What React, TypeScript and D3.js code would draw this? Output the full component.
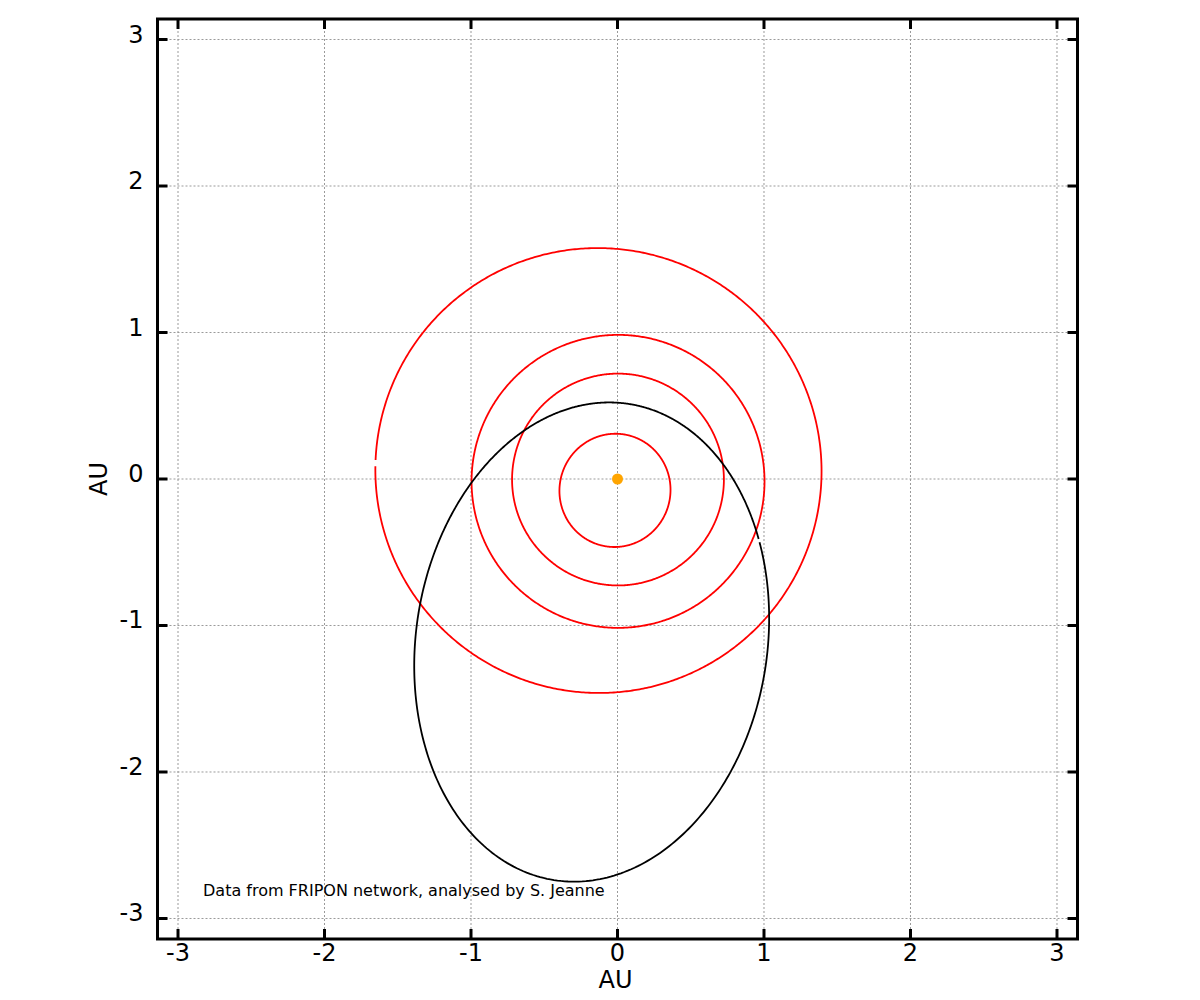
import React, { useEffect } from 'react';
import * as d3 from 'd3';

// Orbital elements (ecliptic projection): semi-major axis [AU], eccentricity,
// longitude of perihelion [deg]
const planetNames = ['Mercury', 'Venus', 'Earth', 'Mars'];
const planetA = [0.387, 0.723, 1.0, 1.524];
const planetE = [0.2056, 0.0068, 0.0167, 0.0934];
const planetVarpi = [77.5, 131.5, 102.9, 336.0];
// true anomaly where the plotted track starts / ends (deg)
const planetStart = [0, 0, 0, -159];

const meteoroidA = 1.645;
const meteoroidE = 0.685;
const meteoroidVarpi = 81;
const meteoroidStart = -104;

const ticks = [-3, -2, -1, 0, 1, 2, 3];
const axisLabel = 'AU';
const credit = 'Data from FRIPON network, analysed by S. Jeanne';

const W = 1200;
const H = 1000;
const margin = { top: 19, right: 122.5, bottom: 61, left: 157.5 };
const FONT = 'DejaVu Sans, sans-serif';

type Pt = [number, number];

// points of a Keplerian ellipse, sun at the focus
const orbitPoints = (a: number, e: number, varpi: number, start: number, gap: number): Pt[] => {
  const p = a * (1 - e * e);
  const w = (varpi * Math.PI) / 180;
  return d3.range(start, start + 360 - gap + 0.001, 0.5).map((deg) => {
    const nu = (deg * Math.PI) / 180;
    const r = p / (1 + e * Math.cos(nu));
    return [r * Math.cos(nu + w), r * Math.sin(nu + w)] as Pt;
  });
};

export default function App() {
  useEffect(() => {
    document.body.style.margin = '0';
  }, []);

  const x = d3.scaleLinear().domain([-3.14, 3.14]).range([margin.left, W - margin.right]);
  const y = d3.scaleLinear().domain([-3.14, 3.14]).range([H - margin.bottom, margin.top]);
  const [x0, x1] = x.range();
  const [y0, y1] = [y.range()[1], y.range()[0]];

  const line = d3
    .line<Pt>()
    .x((d) => x(d[0]))
    .y((d) => y(d[1]));

  const tickLen = 10;

  return (
    <svg width={W} height={H} style={{ display: 'block', background: '#fff' }} fontFamily={FONT}>
      {/* grid */}
      <g stroke="#9a9a9a" strokeWidth={1} strokeDasharray="2,2">
        {ticks.map((t) => (
          <line key={'gx' + t} x1={x(t)} x2={x(t)} y1={y0} y2={y1} />
        ))}
        {ticks.map((t) => (
          <line key={'gy' + t} x1={x0} x2={x1} y1={y(t)} y2={y(t)} />
        ))}
      </g>

      {/* planet orbits */}
      <g fill="none" stroke="#ff0000" strokeWidth={1.8}>
        {planetNames.map((n, i) => (
          <path
            key={n}
            d={line(orbitPoints(planetA[i], planetE[i], planetVarpi[i], planetStart[i], planetStart[i] ? 1.5 : 0)) || ''}
          />
        ))}
      </g>

      {/* meteoroid orbit */}
      <path
        d={line(orbitPoints(meteoroidA, meteoroidE, meteoroidVarpi, meteoroidStart, 1)) || ''}
        fill="none"
        stroke="#000"
        strokeWidth={1.8}
      />

      {/* sun */}
      <circle cx={x(0)} cy={y(0)} r={5.5} fill="#ffa500" />

      {/* ticks */}
      <g stroke="#000" strokeWidth={3}>
        {ticks.map((t) => (
          <g key={'t' + t}>
            <line x1={x(t)} x2={x(t)} y1={y1} y2={y1 - tickLen} />
            <line x1={x(t)} x2={x(t)} y1={y0} y2={y0 + tickLen} />
            <line x1={x0} x2={x0 + tickLen} y1={y(t)} y2={y(t)} />
            <line x1={x1} x2={x1 - tickLen} y1={y(t)} y2={y(t)} />
          </g>
        ))}
      </g>

      {/* frame */}
      <rect x={x0} y={y0} width={x1 - x0} height={y1 - y0} fill="none" stroke="#000" strokeWidth={3} />

      {/* tick labels */}
      <g fontSize={24} fill="#000">
        {ticks.map((t) => (
          <text key={'lx' + t} x={x(t)} y={y1 + 22} textAnchor="middle">
            {t}
          </text>
        ))}
        {ticks.map((t) => (
          <text key={'ly' + t} x={x0 - 14} y={y(t) + 3} textAnchor="end">
            {t}
          </text>
        ))}
      </g>

      {/* axis titles */}
      <text x={(x0 + x1) / 2 - 2} y={988} fontSize={24} textAnchor="middle">
        {axisLabel}
      </text>
      <text
        transform={`translate(107,${(y0 + y1) / 2}) rotate(-90)`}
        fontSize={24}
        textAnchor="middle"
      >
        {axisLabel}
      </text>

      {/* credit */}
      <text x={203} y={896} fontSize={16}>
        {credit}
      </text>
    </svg>
  );
}
